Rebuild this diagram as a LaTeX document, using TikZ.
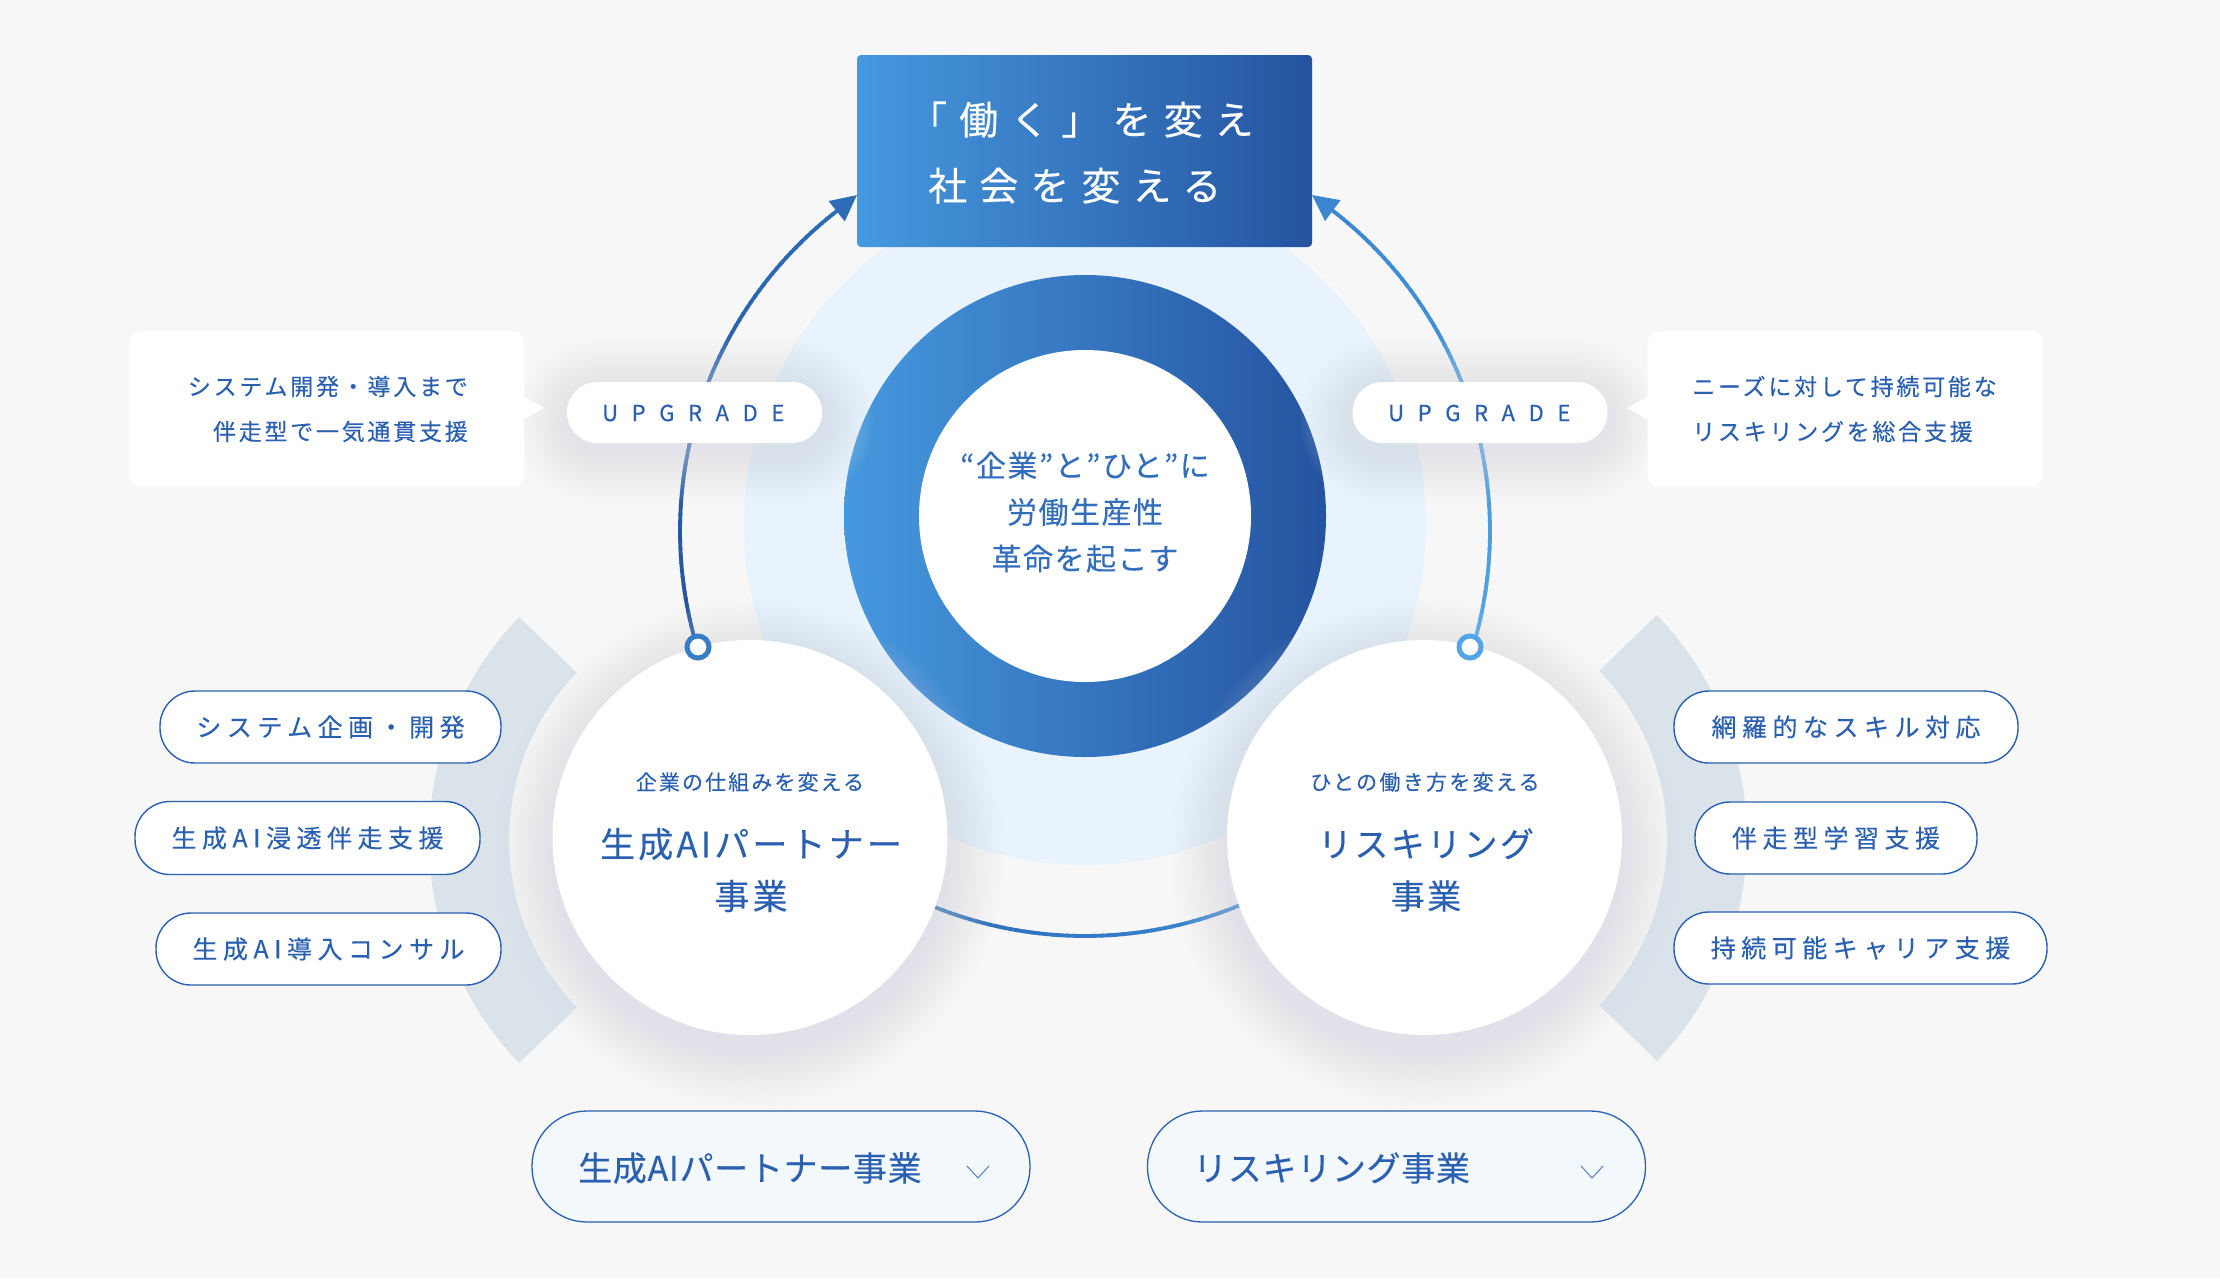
\documentclass[tikz,border=0pt]{standalone}
\usepackage{fontspec}
\usetikzlibrary{arrows.meta}
\newfontfamily\jp[FakeBold=0.25]{Noto Sans CJK JP}
\newcommand{\lsf}[2]{\jp\fontsize{#1}{#1}\selectfont\addfontfeature{LetterSpace=#2}}
\definecolor{bgc}{HTML}{F7F7F7}
\definecolor{pale}{HTML}{E8F3FD}
\definecolor{gradL}{HTML}{4699DF}
\definecolor{gradR}{HTML}{2553A0}
\definecolor{txt}{HTML}{2B60B0}
\definecolor{arcgrey}{HTML}{DAE3EA}
\definecolor{shad}{HTML}{D8E1E9}
\definecolor{lineA}{HTML}{2553A0}
\definecolor{lineB}{HTML}{2E6CB8}
\definecolor{lineC}{HTML}{52A5E6}
\definecolor{lineD}{HTML}{3A87D0}
\definecolor{btn}{HTML}{F3F8FD}
\tikzset{
  whitecircle/.style={circle,fill=white,inner sep=0pt,minimum size=395pt},
  capsule/.style={rectangle,draw=txt,line width=1.4pt,fill=white,rounded corners=35pt,inner sep=0pt,text=txt,font={\lsf{25}{22}}},
  upill/.style={rectangle,fill=white,rounded corners=30pt,inner sep=0pt,minimum width=255pt,minimum height=61pt},
  utext/.style={text=txt,font={\lsf{22}{62}\addfontfeature{FakeBold=0.6}},inner sep=0pt},
  callout/.style={rectangle,fill=white,rounded corners=12pt,inner sep=0pt,minimum width=395pt,minimum height=156pt},
  ctext/.style={text=txt,font={\jp\fontsize{23}{45}\selectfont\addfontfeature{LetterSpace=12}},inner sep=0pt},
  btnpill/.style={rectangle,draw=txt,line width=1.3pt,fill=btn,rounded corners=55pt,inner sep=0pt,minimum width=498pt,minimum height=111pt},
  btext/.style={text=txt,font={\lsf{34}{2}},inner sep=0pt,anchor=west},
  chev/.style={draw=txt!80!white,line width=1pt},
  dotnode/.style={circle,fill=white,inner sep=0pt,minimum size=22pt,line width=5pt},
}
\begin{document}
\begin{tikzpicture}[x=1pt,y=-1pt]
\useasboundingbox (0,0) rectangle (2220,1278);
\fill[bgc] (0,0) rectangle (2220,1278);
% pale disc and ring
\fill[pale] (1085,524) circle[radius=341];
\shade[left color=gradL,right color=gradR] (1085,516) circle[radius=241];
\node[circle,fill=white,inner sep=0pt,minimum size=332pt] (core) at (1085,516) {};
% grey sectors
\fill[arcgrey] plot[domain=136:224,samples=50] ({750+321*cos(\x)},{840-321*sin(\x)}) -- plot[domain=224:136,samples=50] ({750+241*cos(\x)},{840-241*sin(\x)}) -- cycle;
\fill[arcgrey] plot[domain=-44:44,samples=50] ({1426+321*cos(\x)},{838-321*sin(\x)}) -- plot[domain=44:-44,samples=50] ({1426+241*cos(\x)},{838-241*sin(\x)}) -- cycle;
% named connector ends
\coordinate (preL) at ({1085+405*cos(127)},{531-405*sin(127)});
\coordinate (tipL) at (857,195);
\coordinate (preR) at ({1085+405*cos(53)},{531-405*sin(53)});
\coordinate (tipR) at (1312,195);
% big arcs (segmented for the colour gradient)
\foreach \i in {0,...,69}{
  \pgfmathsetmacro\a{196.7-\i*1}
  \pgfmathsetmacro\b{\a-1.3}
  \pgfmathsetmacro\m{\i/69*100}
  \draw[line width=3.8pt,color=lineB!\m!lineA] ({1085+405*cos(\a)},{531-405*sin(\a)}) -- ({1085+405*cos(\b)},{531-405*sin(\b)});
  \pgfmathsetmacro\a{-16.7+\i*1}
  \pgfmathsetmacro\b{\a+1.3}
  \draw[line width=3.8pt,color=lineD!\m!lineC] ({1085+405*cos(\a)},{531-405*sin(\a)}) -- ({1085+405*cos(\b)},{531-405*sin(\b)});
}
\foreach \i in {0,...,43}{
  \pgfmathsetmacro\a{248.3+\i*1}
  \pgfmathsetmacro\b{\a+1.3}
  \pgfmathsetmacro\m{\i/43*100}
  \draw[line width=3.8pt,color=lineD!\m!lineB] ({1085+405*cos(\a)},{531-405*sin(\a)}) -- ({1085+405*cos(\b)},{531-405*sin(\b)});
}
\draw[line width=3.8pt,color=lineB,-{Triangle[length=26pt,width=25pt]}] (preL) -- (tipL);
\draw[line width=3.8pt,color=lineD,-{Triangle[length=26pt,width=25pt]}] (preR) -- (tipR);
% soft halos
\foreach \i in {1,...,22}{
  \pgfmathsetmacro\r{197+\i*2.6}
  \fill[shad,opacity=.022] (750,853) circle[radius=\r];
  \fill[shad,opacity=.022] (1424.5,853) circle[radius=\r];
}
\foreach \i in {1,...,20}{
  \pgfmathsetmacro\d{\i*2.6}
  \pgfmathsetmacro\rc{30+\d}
  \fill[shad,opacity=.03,rounded corners=\rc pt] ({567-\d},{390-\d}) rectangle ({822+\d},{451+\d});
  \fill[shad,opacity=.03,rounded corners=\rc pt] ({1352-\d},{390-\d}) rectangle ({1608+\d},{451+\d});
}
% callouts
\fill[white] (520,395) -- (544,408) -- (520,421) -- cycle;
\fill[white] (1651,395) -- (1627,408) -- (1651,421) -- cycle;
\node[callout] (cL) at (326.5,409) {};
\node[callout] (cR) at (1845,409) {};
\node[ctext,align=right,anchor=east] (cLt) at (468,409) {システム開発・導入まで\\伴走型で一気通貫支援};
\node[ctext,align=left,anchor=west] (cRt) at (1692,409) {ニーズに対して持続可能な\\リスキリングを総合支援};
% upgrade pills
\node[upill] (uL) at (694.5,412.5) {};
\node[upill] (uR) at (1480,412.5) {};
\node[utext,anchor=west] (uLt) at (602,413) {UPGRADE};
\node[utext,anchor=west] (uRt) at (1388,413) {UPGRADE};
% goal box
\node[rectangle,rounded corners=4pt,left color=gradL,right color=gradR,minimum width=455pt,minimum height=192pt,inner sep=0pt] (goal) at (1084.5,151) {};
\node[text=white,font={\jp\fontsize{39}{66}\selectfont\addfontfeature{LetterSpace=31}},align=left,anchor=west,inner sep=0pt] (goalt) at (928,152.5) {\hspace*{-20pt}「働く」を変え\\社会を変える};
% core text
\node[text=txt!75!gradL,font={\jp\fontsize{30}{46.5}\selectfont\addfontfeature{LetterSpace=5}},align=center,inner sep=0pt] (coret) at (1085,512) {“企業”と”ひと”に\\労働生産性\\革命を起こす};
% big circles
\node[whitecircle] (L) at (750,837.5) {};
\node[whitecircle] (R) at (1424.5,837.5) {};
\node[text=txt,font={\lsf{21}{10}},inner sep=0pt] (Ls) at (750,782) {企業の仕組みを変える};
\node[text=txt,font={\jp\fontsize{35}{52}\selectfont\addfontfeature{LetterSpace=9}},align=center,inner sep=0pt] (Lt) at (751,870) {生成AIパートナー\\事業};
\node[text=txt,font={\lsf{21}{11}},inner sep=0pt] (Rs) at (1425,782) {ひとの働き方を変える};
\node[text=txt,font={\jp\fontsize{34}{52}\selectfont\addfontfeature{LetterSpace=7}},align=center,inner sep=0pt] (Rt) at (1426,870) {リスキリング\\事業};
% dots
\node[dotnode,draw=lineB!70!lineC] (dL) at (698,647) {};
\node[dotnode,draw=lineC] (dR) at (1470,647) {};
% capsules
\node[capsule,minimum width=341pt,minimum height=72pt] (p1) at (330.5,727) {システム企画・開発};
\node[capsule,minimum width=345pt,minimum height=73pt] (p2) at (307.5,838) {生成AI浸透伴走支援};
\node[capsule,minimum width=345pt,minimum height=72pt] (p3) at (328.5,949) {生成AI導入コンサル};
\node[capsule,minimum width=344pt,minimum height=72pt] (p4) at (1846,727) {網羅的なスキル対応};
\node[capsule,minimum width=282pt,minimum height=72pt] (p5) at (1836,838) {伴走型学習支援};
\node[capsule,minimum width=373pt,minimum height=72pt] (p6) at (1860.5,948) {持続可能キャリア支援};
% buttons
\node[btnpill] (b1) at (781,1166.5) {};
\node[btnpill] (b2) at (1396.5,1166.5) {};
\node[btext] (b1t) at (578,1168) {生成AIパートナー事業};
\node[btext] (b2t) at (1193,1168) {リスキリング事業};
\coordinate (c1a) at (967,1166); \coordinate (c1b) at (978,1178); \coordinate (c1c) at (989,1166);
\coordinate (c2a) at (1581,1166); \coordinate (c2b) at (1592,1178); \coordinate (c2c) at (1603,1166);
\draw[chev] (c1a) -- (c1b) -- (c1c);
\draw[chev] (c2a) -- (c2b) -- (c2c);
\end{tikzpicture}
\end{document}
